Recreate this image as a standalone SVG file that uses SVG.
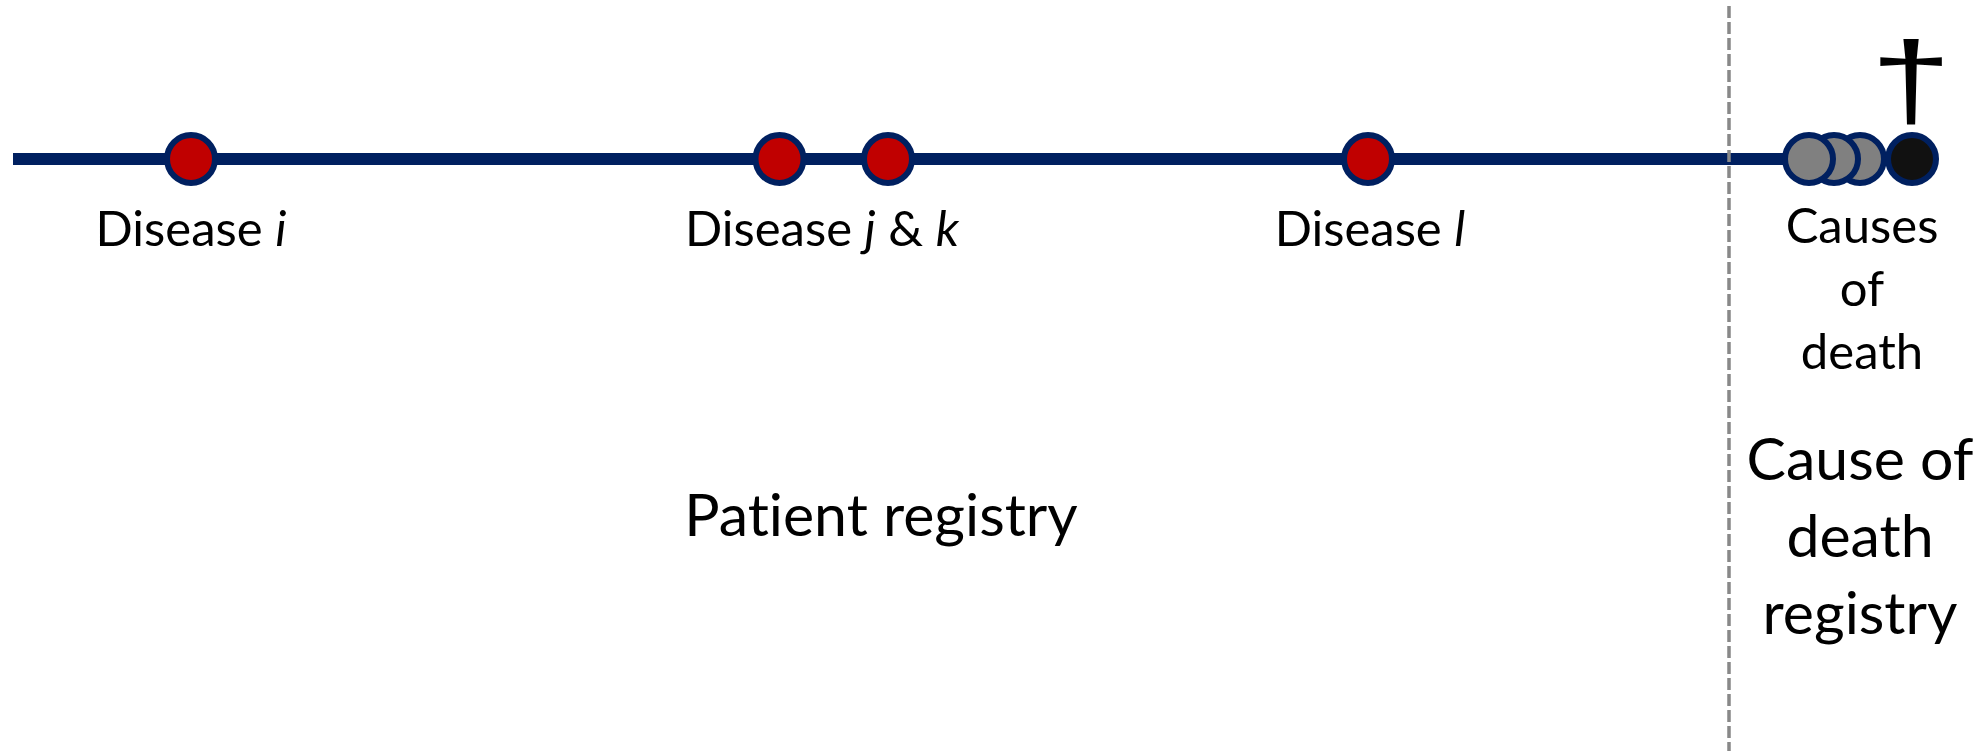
<svg xmlns="http://www.w3.org/2000/svg" width="1987" height="751" viewBox="0 0 1987 751">
<style>
text{font-variant-ligatures:none}
.lbl{font-family:Lato,"Open Sans","Liberation Sans",sans-serif;font-size:49px;fill:#000;text-anchor:middle}
.big{font-family:Lato,"Open Sans","Liberation Sans",sans-serif;font-size:59px;fill:#000;text-anchor:middle}
.ev{fill:#C00000;stroke:#002060;stroke-width:6}
.cd{fill:#808080;stroke:#002060;stroke-width:6}
</style>
<rect width="1987" height="751" fill="#fff"/>
<g id="connectors">
<line x1="13" y1="159" x2="1790" y2="159" stroke="#002060" stroke-width="12"/>
<line x1="1729" y1="6" x2="1729" y2="751" stroke="#888888" stroke-width="3.5" stroke-dasharray="12 4"/>
</g>
<g id="disease-i"><circle class="ev" cx="191" cy="159" r="24"/><text class="lbl" x="191" y="246">Disease <tspan font-style="italic">i</tspan></text></g>
<g id="disease-j"><circle class="ev" cx="779.5" cy="159" r="24"/></g>
<g id="disease-k"><circle class="ev" cx="888" cy="159" r="24"/></g>
<g id="label-jk"><text class="lbl" x="822" y="246">Disease <tspan font-style="italic">j</tspan> &amp; <tspan font-style="italic">k</tspan></text></g>
<g id="disease-l"><circle class="ev" cx="1368" cy="159" r="24"/><text class="lbl" x="1370" y="246">Disease <tspan font-style="italic">l</tspan></text></g>
<g id="causes-of-death">
<circle class="cd" cx="1860" cy="159" r="24"/>
<circle class="cd" cx="1834" cy="159" r="24"/>
<circle class="cd" cx="1809" cy="159" r="24"/>
<circle cx="1912" cy="159" r="24" fill="#111111" stroke="#002060" stroke-width="6"/>
<text class="lbl" x="1862" y="243">Causes</text>
<text class="lbl" x="1862" y="306">of</text>
<text class="lbl" x="1862" y="369">death</text>
</g>
<g id="death"><text transform="translate(1911,117) scale(1.35,1)" x="0" y="0" font-family="Liberation Sans,sans-serif" font-size="108" text-anchor="middle">†</text></g>
<g id="patient-registry"><text class="big" x="881" y="536">Patient registry</text></g>
<g id="cause-of-death-registry">
<text class="big" x="1860" y="480">Cause of</text>
<text class="big" x="1860" y="557">death</text>
<text class="big" x="1860" y="634">registry</text>
</g>
</svg>
